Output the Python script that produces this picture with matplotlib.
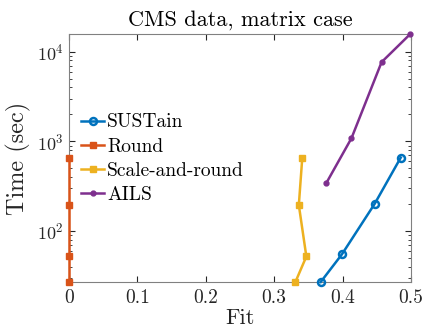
import numpy as np
import matplotlib
matplotlib.use('Agg')
import matplotlib.pyplot as plt

plt.rcParams['font.family'] = 'serif'
plt.rcParams['font.serif'] = ['cmr10']
plt.rcParams['mathtext.fontset'] = 'cm'
plt.rcParams['axes.formatter.use_mathtext'] = True

# data
sustain_fit = [0.368, 0.399, 0.447, 0.485]
sustain_time = [27, 55, 202, 660]
round_fit = [0.0, 0.0, 0.0, 0.0]
round_time = [27, 52, 195, 650]
scale_fit = [0.331, 0.347, 0.336, 0.341]
scale_time = [27, 52, 195, 650]
ails_fit = [0.376, 0.413, 0.457, 0.499]
ails_time = [341, 1087, 7670, 15800]

xticks = [0, 0.1, 0.2, 0.3, 0.4, 0.5]
xticklabels = ['0', '0.1', '0.2', '0.3', '0.4', '0.5']

c_blue = '#0072BD'
c_orange = '#D95319'
c_yellow = '#EDB120'
c_purple = '#7E2F8E'
axcol = '#262626'

fig = plt.figure(figsize=(4.26, 3.31), dpi=100)
ax = fig.add_axes([69 / 426, 1 - 282 / 331, (411 - 69) / 426, (282 - 34) / 331])

ax.plot(sustain_fit, sustain_time, color=c_blue, marker='o', lw=1.8, ms=5,
        mfc='none', mew=1.8, label='SUSTain', clip_on=False, zorder=3)
ax.plot(round_fit, round_time, color=c_orange, marker='s', lw=1.8, ms=4,
        label='Round', clip_on=False, zorder=3)
ax.plot(scale_fit, scale_time, color=c_yellow, marker='s', lw=1.8, ms=4,
        label='Scale-and-round', clip_on=False, zorder=3)
ax.plot(ails_fit, ails_time, color=c_purple, marker='.', lw=1.8, ms=7,
        label='AILS', clip_on=False, zorder=3)

ax.set_yscale('log')
ax.set_xlim(0, 0.5)
ax.set_ylim(27, 15800)
ax.set_xticks(xticks)
ax.set_xticklabels(xticklabels)

for s in ax.spines.values():
    s.set_color('#808080')
    s.set_linewidth(0.8)
ax.tick_params(which='both', direction='in', top=True, right=True,
               colors=axcol, labelcolor=axcol)
ax.tick_params(axis='x', labelsize=14, pad=5)
ax.tick_params(axis='y', labelsize=13, pad=4)
ax.tick_params(which='major', length=4)
ax.tick_params(which='minor', length=2)
ax.tick_params(axis='x', which='minor', top=False, bottom=False)

ax.set_xlabel('Fit', fontsize=16, color=axcol, labelpad=1)
ax.set_ylabel('Time (sec)', fontsize=17.5, color=axcol, labelpad=4)
ax.set_title('CMS data, matrix case', fontsize=16, color='black', pad=6)

leg = ax.legend(loc='center left', bbox_to_anchor=(0.035, 0.497), frameon=False,
                fontsize=14, handlelength=1.2, handletextpad=0.15,
                labelspacing=0.32, borderaxespad=0, borderpad=0)

fig.savefig('out.png', dpi=100)
